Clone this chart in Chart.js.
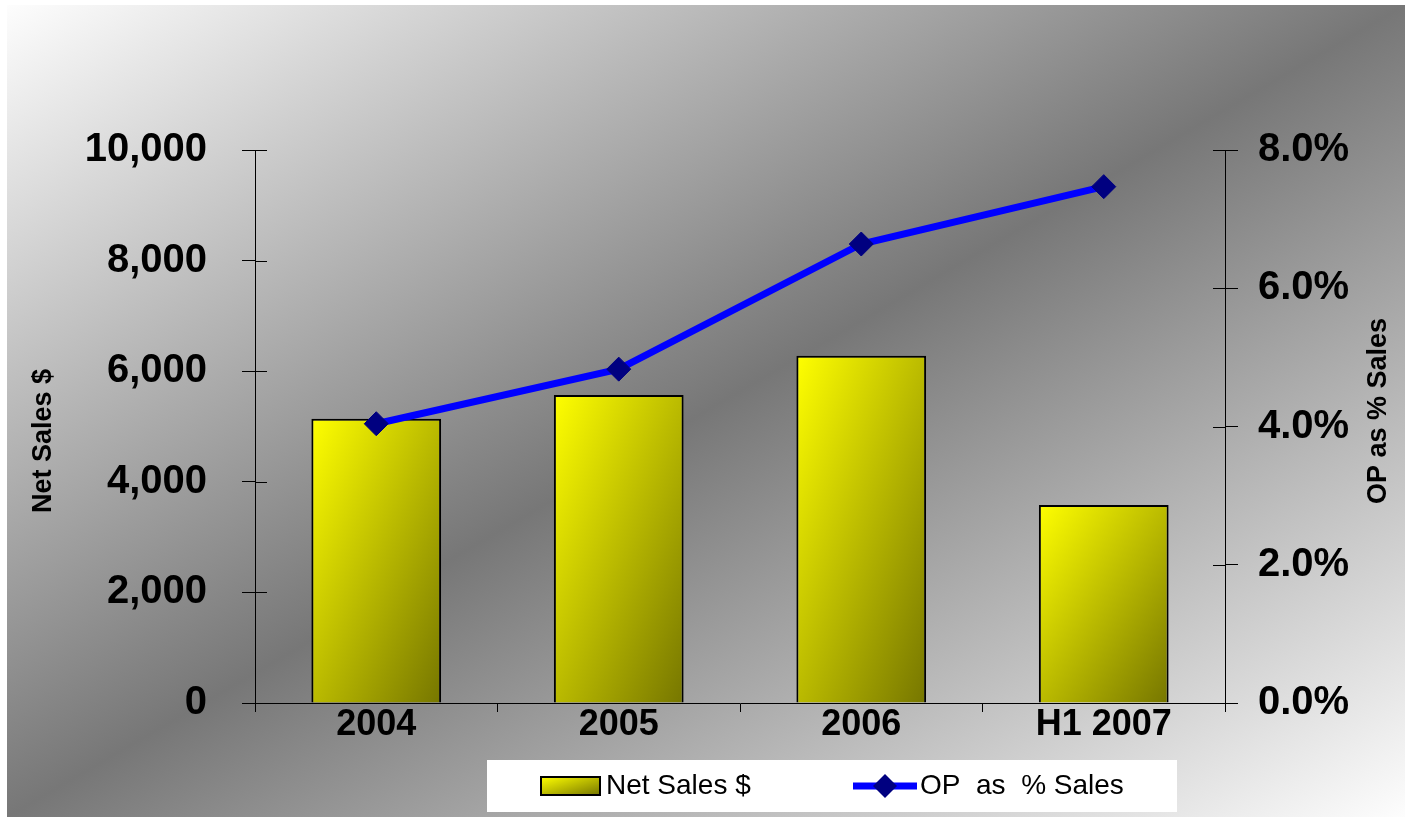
<!DOCTYPE html>
<html>
<head>
<meta charset="utf-8">
<script src="https://cdn.jsdelivr.net/npm/chart.js@4.4.1/dist/chart.umd.min.js"></script>
<style>
  html, body { margin: 0; padding: 0; background: #fff; }
  canvas { display: block; }
</style>
</head>
<body>
<canvas id="salesChart" width="1405" height="817"></canvas>
<script>
const years = ["2004", "2005", "2006", "H1 2007"];
const netSales = [5140, 5570, 6280, 3580];
const opPercent = [4.04, 4.83, 6.64, 7.47];
const salesTicks = [0, 2000, 4000, 6000, 8000, 10000];
const percentTicks = [0, 2, 4, 6, 8];

const FONT = "'Liberation Sans', Arial, sans-serif";

function barGradient(ctx, left, top, right, bottom) {
  // corner to corner fill (like office charts): top-right and bottom-left share the mid colour
  const w = right - left, h = bottom - top;
  const k = 2 * w * h / (w * w + h * h);
  const g = ctx.createLinearGradient(left, top, left + h * k, top + w * k);
  g.addColorStop(0, "#ffff00");
  g.addColorStop(1, "#767600");
  return g;
}

function barColor(context) {
  const chart = context.chart;
  const x = chart.scales.x;
  const y = chart.scales.y;
  if (!chart.chartArea || !x || !y || context.dataIndex === undefined) return "#e0e000";
  const half = x.width / years.length * 0.535 / 2;
  const cx = x.getPixelForValue(context.dataIndex);
  const top = y.getPixelForValue(netSales[context.dataIndex]);
  const bottom = y.getPixelForValue(0);
  return barGradient(chart.ctx, cx - half, top, cx + half, bottom);
}

const backgroundPlugin = {
  id: "background",
  beforeDraw(chart) {
    const ctx = chart.ctx;
    const W = chart.width, H = chart.height;
    ctx.save();
    ctx.fillStyle = "#fff";
    ctx.fillRect(0, 0, W, H);
    ctx.translate(7, 5);
    ctx.scale(W - 7, H - 5);
    const g = ctx.createLinearGradient(0, 0, 1, 1);
    g.addColorStop(0, "#fdfdfd");
    g.addColorStop(0.5, "#777777");
    g.addColorStop(1, "#fdfdfd");
    ctx.fillStyle = g;
    ctx.fillRect(0, 0, 1, 1);
    ctx.restore();
  }
};

const extrasPlugin = {
  id: "extras",
  afterDraw(chart) {
    const ctx = chart.ctx;
    const y = chart.scales.y;
    const y1 = chart.scales.y1;
    ctx.save();

    // inner half of the crossing tick marks
    ctx.strokeStyle = "#000";
    ctx.lineWidth = 1;
    y.ticks.forEach((t) => {
      const p = Math.round(y.getPixelForValue(t.value)) + 0.5;
      ctx.beginPath();
      ctx.moveTo(y.right, p);
      ctx.lineTo(y.right + 12, p);
      ctx.stroke();
    });
    y1.ticks.forEach((t) => {
      const p = Math.round(y1.getPixelForValue(t.value)) + 0.5;
      ctx.beginPath();
      ctx.moveTo(y1.left - 12, p);
      ctx.lineTo(y1.left, p);
      ctx.stroke();
    });

    // axis titles (both read bottom to top)
    ctx.fillStyle = "#000";
    ctx.font = "bold 27px " + FONT;
    ctx.textAlign = "center";
    ctx.textBaseline = "middle";
    ctx.save();
    ctx.translate(44, 441);
    ctx.rotate(-Math.PI / 2);
    ctx.fillText("Net Sales $", 0, 0);
    ctx.restore();
    ctx.save();
    ctx.translate(1379, 411);
    ctx.rotate(-Math.PI / 2);
    ctx.fillText("OP as % Sales", 0, 0);
    ctx.restore();

    // legend box
    ctx.fillStyle = "#fff";
    ctx.fillRect(487, 760, 690, 52);

    const sw = barGradient(ctx, 541, 777, 600, 795);
    ctx.fillStyle = sw;
    ctx.fillRect(541, 777, 59, 18);
    ctx.strokeStyle = "#000";
    ctx.lineWidth = 2;
    ctx.strokeRect(541, 777, 59, 18);

    ctx.strokeStyle = "#0000ff";
    ctx.lineWidth = 7;
    ctx.beginPath();
    ctx.moveTo(853, 786);
    ctx.lineTo(917, 786);
    ctx.stroke();
    ctx.fillStyle = "#000080";
    ctx.beginPath();
    ctx.moveTo(885, 774);
    ctx.lineTo(897, 786);
    ctx.lineTo(885, 798);
    ctx.lineTo(873, 786);
    ctx.closePath();
    ctx.fill();

    ctx.fillStyle = "#000";
    ctx.font = "28px " + FONT;
    ctx.textAlign = "left";
    ctx.textBaseline = "middle";
    ctx.fillText("Net Sales $", 606, 786);
    ctx.fillText("OP  as  % Sales", 920, 786);

    ctx.restore();
  }
};

new Chart(document.getElementById("salesChart").getContext("2d"), {
  type: "bar",
  data: {
    labels: years,
    datasets: [
      {
        type: "line",
        label: "OP  as  % Sales",
        data: opPercent,
        yAxisID: "y1",
        borderColor: "#0000ff",
        borderWidth: 7,
        tension: 0,
        pointStyle: "rectRot",
        pointRadius: 12,
        pointBackgroundColor: "#000080",
        pointBorderColor: "#000080",
        pointBorderWidth: 1,
        order: 0
      },
      {
        type: "bar",
        label: "Net Sales $",
        data: netSales,
        yAxisID: "y",
        backgroundColor: barColor,
        borderColor: "#000",
        borderWidth: 2,
        categoryPercentage: 1,
        barPercentage: 0.535,
        order: 1
      }
    ]
  },
  options: {
    responsive: false,
    animation: false,
    layout: { padding: { top: 150, left: 0, right: 0, bottom: 0 } },
    plugins: {
      legend: { display: false },
      tooltip: { enabled: false }
    },
    scales: {
      x: {
        offset: true,
        grid: { offset: true, drawOnChartArea: false, drawTicks: true, tickLength: 9, color: "#000" },
        border: { display: true, color: "#000", width: 1 },
        ticks: { color: "#000", font: { family: FONT, size: 36, weight: "bold" }, padding: -9, maxRotation: 0, autoSkip: false },
        afterFit(scale) { scale.height = 114; }
      },
      y: {
        position: "left",
        min: 0,
        max: 10000,
        afterBuildTicks(scale) { scale.ticks = salesTicks.map((v) => ({ value: v })); },
        ticks: {
          color: "#000",
          font: { family: FONT, size: 40, weight: "bold" },
          padding: 35,
          callback: (v) => v.toLocaleString("en-US")
        },
        grid: { drawOnChartArea: false, drawTicks: true, tickLength: 13, color: "#000" },
        border: { display: true, color: "#000", width: 1 },
        afterFit(scale) { scale.width = 255; }
      },
      y1: {
        position: "right",
        min: 0,
        max: 8,
        afterBuildTicks(scale) { scale.ticks = percentTicks.map((v) => ({ value: v })); },
        ticks: {
          color: "#000",
          font: { family: FONT, size: 40, weight: "bold" },
          padding: 20,
          callback: (v) => v.toFixed(1) + "%"
        },
        grid: { drawOnChartArea: false, drawTicks: true, tickLength: 13, color: "#000" },
        border: { display: true, color: "#000", width: 1 },
        afterFit(scale) { scale.width = 180; }
      }
    }
  },
  plugins: [backgroundPlugin, extrasPlugin]
});
</script>
</body>
</html>
